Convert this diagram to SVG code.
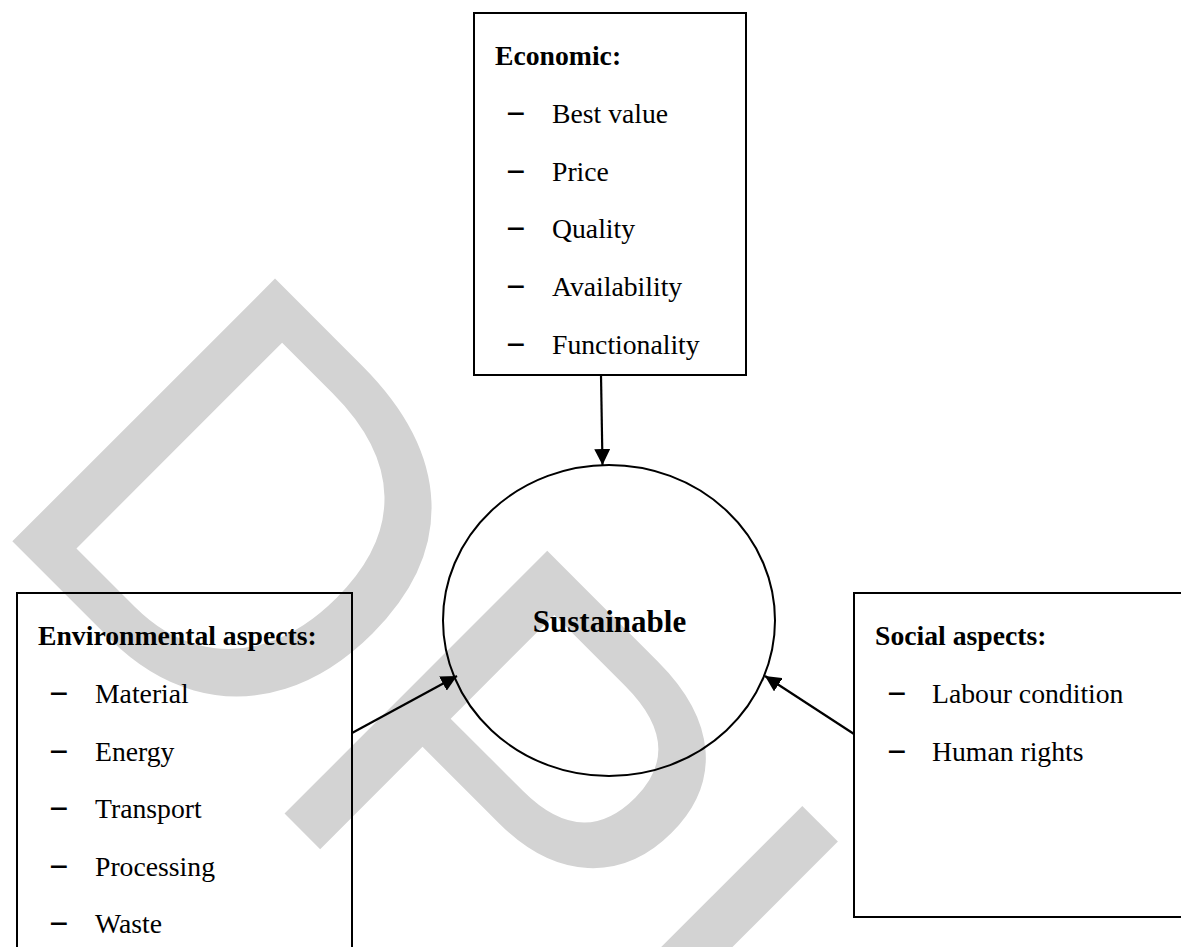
<svg xmlns="http://www.w3.org/2000/svg" width="1181" height="947" viewBox="0 0 1181 947">
  <style>
    .box { fill: none; stroke: #000; stroke-width: 2; }
    .head { font-family: "Liberation Serif", "Times New Roman", serif; font-weight: bold; font-size: 27.7px; fill: #000; }
    .item { font-family: "Liberation Serif", "Times New Roman", serif; font-size: 27.7px; fill: #000; }
    .dash { font-family: "Liberation Serif", "Times New Roman", serif; font-weight: bold; font-size: 34px; fill: #000; }
    .conn { fill: none; stroke: #000; stroke-width: 2.2; }
    .wm { font-family: "Liberation Sans", Arial, sans-serif; font-size: 540px; fill: #d3d3d3; letter-spacing: -5px; }
  </style>
  <defs>
    <marker id="arrow" markerUnits="userSpaceOnUse" markerWidth="18" markerHeight="16" refX="16" refY="8" orient="auto">
      <path d="M0,0 L16,8 L0,16 Z" fill="#000"/>
    </marker>
  </defs>
  <rect width="1181" height="947" fill="#fff"/>
  <text class="wm" transform="translate(-19,510) rotate(45)">DPI</text>

  <g id="economic">
    <rect class="box" x="474" y="13" width="272" height="362"/>
    <text class="head" x="495" y="65">Economic:</text>
    <text class="dash" x="506" y="125">−</text><text class="item" x="552" y="123">Best value</text>
    <text class="dash" x="506" y="182.5">−</text><text class="item" x="552" y="180.5">Price</text>
    <text class="dash" x="506" y="240">−</text><text class="item" x="552" y="238">Quality</text>
    <text class="dash" x="506" y="298">−</text><text class="item" x="552" y="296">Availability</text>
    <text class="dash" x="506" y="355.5">−</text><text class="item" x="552" y="353.5">Functionality</text>
  </g>

  <g id="sustainable">
    <ellipse cx="609" cy="620.5" rx="166" ry="155.5" fill="none" stroke="#000" stroke-width="2"/>
    <text class="head" x="609.5" y="632" text-anchor="middle" style="font-size:31px">Sustainable</text>
  </g>

  <g id="environmental">
    <rect class="box" x="17" y="593" width="335" height="380"/>
    <text class="head" x="38" y="645">Environmental aspects:</text>
    <text class="dash" x="49" y="705">−</text><text class="item" x="95" y="703">Material</text>
    <text class="dash" x="49" y="762.5">−</text><text class="item" x="95" y="760.5">Energy</text>
    <text class="dash" x="49" y="820">−</text><text class="item" x="95" y="818">Transport</text>
    <text class="dash" x="49" y="877.5">−</text><text class="item" x="95" y="875.5">Processing</text>
    <text class="dash" x="49" y="935">−</text><text class="item" x="95" y="933">Waste</text>
  </g>

  <g id="social">
    <rect class="box" x="854" y="593" width="340" height="324"/>
    <text class="head" x="875" y="645">Social aspects:</text>
    <text class="dash" x="887" y="705">−</text><text class="item" x="932" y="703">Labour condition</text>
    <text class="dash" x="887" y="763">−</text><text class="item" x="932" y="761">Human rights</text>
  </g>

  <g id="connectors">
    <path class="conn" d="M601,375 L602.5,465" marker-end="url(#arrow)"/>
    <path class="conn" d="M352,733 L457,676" marker-end="url(#arrow)"/>
    <path class="conn" d="M854,734 L765,676" marker-end="url(#arrow)"/>
  </g>
</svg>
